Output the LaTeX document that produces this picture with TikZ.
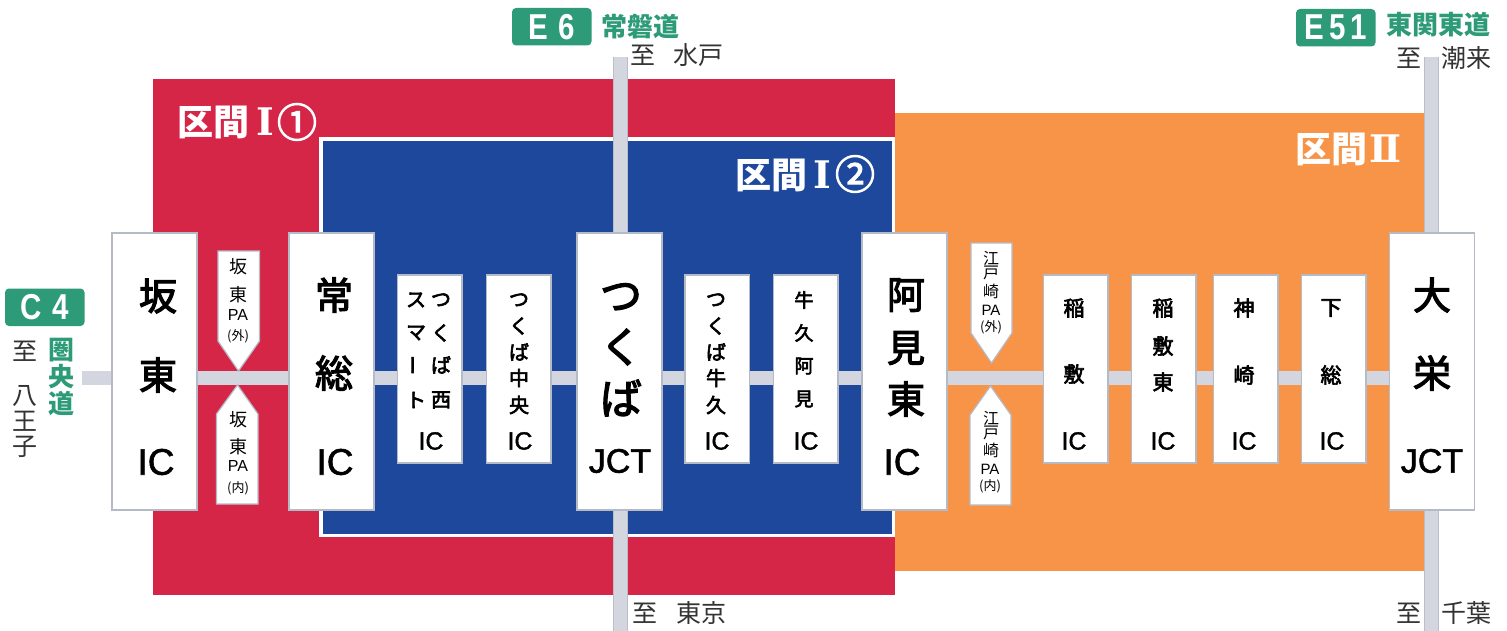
\documentclass[tikz,border=0pt]{standalone}
\usepackage{fontspec}
\usepackage{graphicx}
\setmainfont{Noto Sans CJK JP}
\newfontfamily\lat[FakeBold=1.5]{Liberation Sans}
\newfontfamily\plainlat{Liberation Sans}
\newfontfamily\badgefont{Liberation Sans}
\newfontfamily\med[FakeBold=3.0]{Noto Sans CJK JP}
\newfontfamily\serifnum{DejaVu Serif}
\definecolor{redz}{HTML}{D62648}
\definecolor{bluez}{HTML}{1E489C}
\definecolor{orangez}{HTML}{F89447}
\definecolor{roadc}{HTML}{D3D6DF}
\definecolor{roade}{HTML}{B9BEC9}
\definecolor{boxe}{HTML}{B5BBC6}
\definecolor{greenc}{HTML}{2E9B78}
\definecolor{darkt}{HTML}{333333}
\pgfdeclarelayer{back}
\pgfsetlayers{back,main}
\newcounter{labn}
\newcommand{\lab}[4][]{\stepcounter{labn}\node[txt,#1] (t\thelabn) at (#2,#3) {#4};}
\newcommand{\sz}[1]{\fontsize{#1}{#1}\selectfont}
\tikzset{
 x=1pt,y=-1pt,
 txt/.style={inner sep=0pt,outer sep=0pt,text=black},
 fs/.style={font=\sz{#1}},
 bfs/.style={font=\sz{#1}\med},
 hfs/.style={font=\sz{#1}\med},
 lfs/.style={font=\sz{#1}\lat},
 pfs/.style={font=\sz{#1}\plainlat},
 dark/.style={text=darkt,font=\sz{25}},
 grn/.style={text=greenc,font=\sz{#1}\bfseries},
 wht/.style={text=white,font=\sz{#1}\bfseries},
 whn/.style={text=white,font=\sz{#1}\serifnum\bfseries},
 whc/.style={text=white,font=\sz{#1}\med},
 bx/.style={draw=boxe,fill=white,line width=1.3pt,inner sep=0pt,outer sep=0pt,anchor=north west},
 bigbox/.style={bx,minimum width=85pt,minimum height=277pt},
 smallbox/.style={bx,minimum width=64.5pt,minimum height=188pt},
 rd/.style={roadc,line width=14pt},
 rdv/.style={draw=roade,line width=.7pt,double=roadc,double distance=13.8pt},
 pa/.style={draw=boxe,fill=white,line width=1.2pt,line join=miter},
 badge/.style={fill=greenc,rounded corners=4pt,inner sep=0pt,outer sep=0pt,minimum width=79.5pt,minimum height=37.5pt,anchor=north west,text=white,font=\sz{36}\badgefont\bfseries},
}
\begin{document}
\begin{tikzpicture}
\useasboundingbox (0,0) rectangle (1507,631);
% boxes
\node[bigbox] (bando) at (112,233) {};
\node[bigbox] (joso) at (289,233) {};
\node[bigbox] (tsukuba) at (577,233) {};
\node[bigbox] (amihigashi) at (862,233) {};
\node[bigbox] (oei) at (1389.5,233) {};
\node[smallbox] (nishi) at (397.5,275) {};
\node[smallbox] (chuo) at (486.5,275) {};
\node[smallbox] (ushiku) at (685,275) {};
\node[smallbox] (ami) at (773.5,275) {};
\node[smallbox] (ina) at (1043.5,275) {};
\node[smallbox] (inahi) at (1131.5,275) {};
\node[smallbox] (kozaki) at (1213.5,275) {};
\node[smallbox] (shimo) at (1301.5,275) {};
\coordinate (c4end) at (82,378);
\coordinate (e6top) at (620.5,57);
\coordinate (e6bot) at (620.5,631);
\coordinate (e51top) at (1431.5,57);
\coordinate (e51bot) at (1431.5,631);
\begin{pgfonlayer}{back}
\fill[white] (0,0) rectangle (1507,631);
\fill[redz] (153,79) rectangle (895,595);
\fill[orangez] (895,113) rectangle (1424,571);
\fill[white] (319,137.5) rectangle (895,537);
\fill[bluez] (322.5,141) rectangle (892,534);
\draw[rdv] (e6top) -- (e6top |- tsukuba.north);
\draw[rdv] (e6bot |- tsukuba.south) -- (e6bot);
\draw[rdv] (e51top) -- (e51top |- oei.north);
\draw[rdv] (e51bot |- oei.south) -- (e51bot);
\draw[rd] (c4end) -- (c4end -| bando.west);
\draw[rd] (c4end -| bando.east) -- (c4end -| joso.west);
\draw[rd] (c4end -| joso.east) -- (c4end -| nishi.west);
\draw[rd] (c4end -| nishi.east) -- (c4end -| chuo.west);
\draw[rd] (c4end -| chuo.east) -- (c4end -| tsukuba.west);
\draw[rd] (c4end -| tsukuba.east) -- (c4end -| ushiku.west);
\draw[rd] (c4end -| ushiku.east) -- (c4end -| ami.west);
\draw[rd] (c4end -| ami.east) -- (c4end -| amihigashi.west);
\draw[rd] (c4end -| amihigashi.east) -- (c4end -| ina.west);
\draw[rd] (c4end -| ina.east) -- (c4end -| inahi.west);
\draw[rd] (c4end -| inahi.east) -- (c4end -| kozaki.west);
\draw[rd] (c4end -| kozaki.east) -- (c4end -| shimo.west);
\draw[rd] (c4end -| shimo.east) -- (c4end -| oei.west);
\end{pgfonlayer}
% PA markers
\draw[pa] (218,251) -- (259.5,251) -- (259.5,341) -- (238.5,371) -- (218,341) -- cycle;
\draw[pa] (216.5,504) -- (258,504) -- (258,414) -- (237.5,385) -- (216.5,414) -- cycle;
\draw[pa] (971,243) -- (1012,243) -- (1012,333) -- (991.5,363) -- (971,333) -- cycle;
\draw[pa] (970,505) -- (1011,505) -- (1011,415) -- (990.5,386) -- (970,415) -- cycle;
% badges
\node[badge] (c4) at (5,288.5) {\scalebox{.82}[1]{C\,\,4}};
\node[badge] (e6) at (512,8) {\scalebox{.82}[1]{E\,\,6}};
\node[badge] (e51) at (1296,9) {\scalebox{.82}[1]{E\,5\,1}};
% zone titles
\lab[wht=36]{213}{122}{区間}
\lab[whn=38]{265}{122}{Ⅰ}
\lab[whc=40]{297}{122}{①}
\lab[wht=36]{771}{175}{区間}
\lab[whn=38]{822}{175}{Ⅰ}
\lab[whc=40]{855}{174}{②}
\lab[wht=36]{1331}{149}{区間}
\lab[whn=38]{1385}{149}{Ⅱ}
% road names
\lab[grn=26]{640}{27}{常磐道}
\lab[grn=26]{1438}{25}{東関東道}
\lab[grn=26]{61}{350}{圏}
\lab[grn=26]{61}{377}{央}
\lab[grn=26]{61}{403}{道}
% destinations
\lab[dark]{643}{55}{至}
\lab[dark]{698}{55}{水戸}
\lab[dark]{645}{613}{至}
\lab[dark]{701}{613}{東京}
\lab[dark]{1409}{58}{至}
\lab[dark]{1466}{58}{潮来}
\lab[dark]{1409}{613}{至}
\lab[dark]{1466}{613}{千葉}
\lab[dark]{25}{351}{至}
\lab[dark]{25}{396}{八}
\lab[dark]{25}{421}{王}
\lab[dark]{25}{447}{子}
% big boxes text
\lab[hfs=38]{158}{296}{坂}
\lab[hfs=38]{158}{375}{東}
\lab[lfs=37]{156}{462}{IC}
\lab[hfs=38]{334}{295}{常}
\lab[hfs=38]{334}{373}{総}
\lab[lfs=37]{335}{462}{IC}
\lab[hfs=42]{621}{297}{つ}
\lab[hfs=42]{621}{347}{く}
\lab[hfs=42]{621}{398}{ば}
\lab[lfs=34]{620}{461}{JCT}
\lab[hfs=38]{906}{295}{阿}
\lab[hfs=38]{906}{348}{見}
\lab[hfs=38]{906}{399}{東}
\lab[lfs=37]{902}{462}{IC}
\lab[hfs=38]{1432}{295}{大}
\lab[hfs=38]{1432}{373}{栄}
\lab[lfs=34]{1432}{461}{JCT}
% small boxes
\lab[bfs=20]{441}{300}{つ}
\lab[bfs=20]{441}{333}{く}
\lab[bfs=20]{441}{365}{ば}
\lab[bfs=20]{441}{400}{西}
\lab[bfs=20]{416}{300}{ス}
\lab[bfs=20]{416}{333}{マ}
\lab[bfs=20,rotate=90]{416}{365}{ー}
\lab[bfs=20]{416}{400}{ト}
\lab[lfs=25]{431}{441}{IC}
\lab[bfs=20]{519}{300}{つ}
\lab[bfs=20]{519}{326}{く}
\lab[bfs=20]{519}{352}{ば}
\lab[bfs=20]{519}{378}{中}
\lab[bfs=20]{519}{405}{央}
\lab[lfs=25]{520}{441}{IC}
\lab[bfs=20]{716}{300}{つ}
\lab[bfs=20]{716}{326}{く}
\lab[bfs=20]{716}{352}{ば}
\lab[bfs=20]{716}{378}{牛}
\lab[bfs=20]{716}{405}{久}
\lab[lfs=25]{717}{441}{IC}
\lab[bfs=19]{804}{300}{牛}
\lab[bfs=19]{804}{333}{久}
\lab[bfs=19]{804}{366}{阿}
\lab[bfs=19]{804}{399}{見}
\lab[lfs=25]{806}{441}{IC}
\lab[bfs=21]{1074}{308}{稲}
\lab[bfs=21]{1074}{374}{敷}
\lab[lfs=25]{1074}{441}{IC}
\lab[bfs=21]{1163}{308}{稲}
\lab[bfs=21]{1163}{346}{敷}
\lab[bfs=21]{1163}{382}{東}
\lab[lfs=25]{1163}{441}{IC}
\lab[bfs=21]{1244}{308}{神}
\lab[bfs=21]{1244}{375}{崎}
\lab[lfs=25]{1244}{441}{IC}
\lab[bfs=21]{1331}{308}{下}
\lab[bfs=21]{1331}{375}{総}
\lab[lfs=25]{1332}{441}{IC}
% PA text
\lab[fs=18]{238}{267}{坂}
\lab[fs=18]{238}{295}{東}
\lab[pfs=16]{238}{315}{PA}
\lab[fs=13]{238}{336}{(外)}
\lab[fs=18]{238}{420}{坂}
\lab[fs=18]{238}{447}{東}
\lab[pfs=16]{238}{466}{PA}
\lab[fs=13]{238}{488}{(内)}
\lab[fs=16]{991}{258}{江}
\lab[fs=16]{991}{273}{戸}
\lab[fs=16]{991}{291}{崎}
\lab[pfs=15]{991}{310}{PA}
\lab[fs=13]{991}{327}{(外)}
\lab[fs=16]{991}{418}{江}
\lab[fs=16]{991}{433}{戸}
\lab[fs=16]{991}{450}{崎}
\lab[pfs=15]{990}{469}{PA}
\lab[fs=13]{990}{486}{(内)}
\end{tikzpicture}
\end{document}
